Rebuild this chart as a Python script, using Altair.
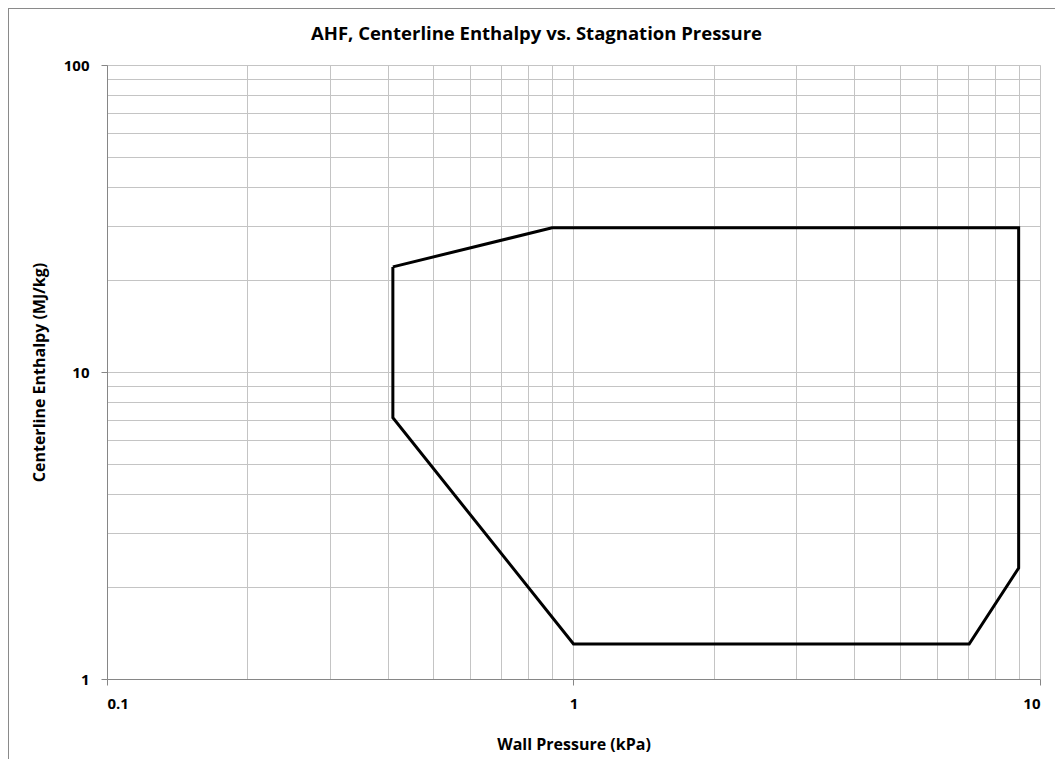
import altair as alt
import pandas as pd

# Envelope vertices (closed polygon)
pressure = [0.41, 0.9, 9.0, 9.0, 7.05, 1.0, 0.41, 0.41]
enthalpy = [22.0, 29.5, 29.5, 2.3, 1.3, 1.3, 7.1, 22.0]
order = list(range(len(pressure)))

x_ticks = [0.1, 0.2, 0.3, 0.4, 0.5, 0.6, 0.7, 0.8, 0.9,
           1, 2, 3, 4, 5, 6, 7, 8, 9, 10]
y_ticks = [1, 2, 3, 4, 5, 6, 7, 8, 9,
           10, 20, 30, 40, 50, 60, 70, 80, 90, 100]

df = pd.DataFrame({"p": pressure, "h": enthalpy, "o": order})

FONT = "Open Sans"
GRID = "#c4c4c4"
AXC = "#868686"
major = "abs(log(datum.value)/LN10 - round(log(datum.value)/LN10)) < 0.001"

def axis(title, vals, **kw):
    return alt.Axis(
        title=title,
        values=vals,
        format="~g",
        labelExpr=f"({major}) ? datum.label : ''",
        grid=True,
        gridColor=GRID,
        gridWidth=1,
        domainColor=AXC,
        domainWidth=1,
        tickColor={"condition": {"test": major, "value": AXC}, "value": "transparent"},
        tickSize=6,
        labelFont=FONT,
        labelFontWeight="bold",
        labelFontSize=15,
        labelColor="#000000",
        titleFont=FONT,
        titleFontWeight="bold",
        titleFontSize=16,
        titleColor="#000000",
        labelOverlap=False,
        **kw,
    )

line = alt.Chart(df).mark_line(color="black", strokeWidth=3, strokeJoin="miter").encode(
    x=alt.X("p:Q", scale=alt.Scale(type="log", domain=[0.1, 10], nice=False),
            axis=axis("Wall Pressure (kPa)", x_ticks, labelPadding=11, titlePadding=25)),
    y=alt.Y("h:Q", scale=alt.Scale(type="log", domain=[1, 100], nice=False),
            axis=axis("Centerline Enthalpy (MJ/kg)", y_ticks, labelPadding=12, titlePadding=16)),
    order="o:Q",
)

# outer chart frame (left and top edges, as in the cropped reference)
frame_left = alt.Chart(df).mark_rule(color="#8a8a8a", strokeWidth=1).encode(
    x=alt.value(-98.5), y=alt.value(-56.5), y2=alt.value(720)
)
frame_top = alt.Chart(df).mark_rule(color="#8a8a8a", strokeWidth=1).encode(
    x=alt.value(-98.5), x2=alt.value(960), y=alt.value(-56.5)
)

chart = alt.layer(frame_left, frame_top, line).properties(
    width=933,
    height=614,
    title=alt.TitleParams(
        "AHF, Centerline Enthalpy vs. Stagnation Pressure",
        font=FONT, fontSize=18.5, fontWeight="bold", color="#000000",
        anchor="middle", frame="group", dx=-37, offset=-35,
    ),
    autosize=alt.AutoSizeParams(type="none"),
    padding={"left": 99, "top": 57, "right": 15, "bottom": 80},
).configure_view(stroke=None).configure(background="white")

chart.save("out.html", embed_options={"renderer": "svg", "actions": False})
